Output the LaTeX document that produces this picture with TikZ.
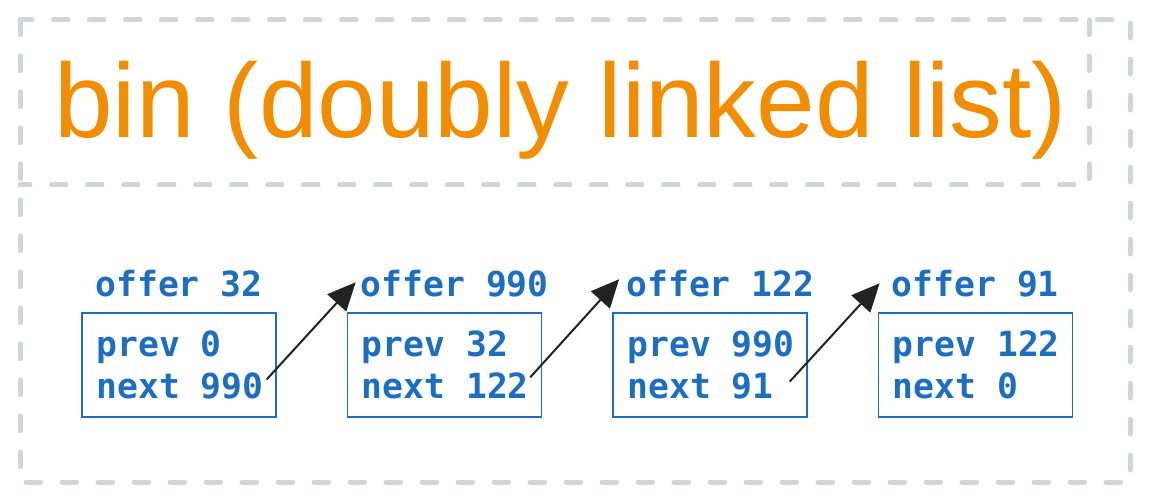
\documentclass[tikz,border=0pt]{standalone}
\usepackage{fontspec}
\usepackage{tikz}
\usetikzlibrary{arrows.meta}
\setmainfont{Liberation Sans}
\newfontfamily\monofont{DejaVu Sans Mono}
\definecolor{titulo}{HTML}{F28C00}
\definecolor{azul}{HTML}{1B6EC2}
\definecolor{marco}{HTML}{D1D5DA}
\definecolor{flecha}{HTML}{222222}

\begin{document}
\begin{tikzpicture}[x=0.75pt, y=-0.75pt,
    marcolinea/.style={draw=marco, line width=3.75pt, line cap=round, dash pattern=on 11pt off 16pt},
    caja/.style={draw=azul, line width=1.3pt, minimum width=145.5pt, minimum height=78pt, inner sep=0pt},
    texto/.style={text=azul, font=\monofont\bfseries\fontsize{26}{30}\selectfont, inner sep=0pt, anchor=base west},
    puntero/.style={draw=flecha, line width=1.5pt, -{Triangle[length=21pt, width=19pt]}}]
    \useasboundingbox (0,0) rectangle (1150,502);

    % Dibuja el marco exterior
    \draw[marcolinea] (20,20) rectangle (1130,482);

    % Dibuja el marco del titulo
    \draw[marcolinea] (1089,20) -- (1089,185) -- (20,185);

    % Titulo
    \node[anchor=base west, inner sep=0pt, text=titulo, font=\fontsize{79}{90}\selectfont] (titulo) at (54,138) {bin (doubly linked list)};

    % Nodos de la lista
    \foreach \i/\off/\pv/\nx in {1/32/0/990, 2/990/32/122, 3/122/990/91, 4/91/122/0} {
        \node[caja] (caja\i) at ({179+(\i-1)*265.5},365) {};
        \node[texto] (oferta\i) at ([shift={(14,-16)}]caja\i.north west) {offer \off};
        \node[texto] (prev\i) at ([shift={(15,-8)}]caja\i.west) {prev \pv};
        \node[texto] (next\i) at ([shift={(15,33)}]caja\i.west) {next \nx};
    }

    % Punteros next
    \draw[puntero] ([shift={(3,-6)}]next1.east) -- ([shift={(-5,-1)}]oferta2.west);
    \draw[puntero] ([shift={(1,-8)}]next2.east) -- ([shift={(-7,-4)}]oferta3.west);
    \draw[puntero] ([shift={(16,-4)}]next3.east) -- ([shift={(-12,0)}]oferta4.west);
\end{tikzpicture}
\end{document}
